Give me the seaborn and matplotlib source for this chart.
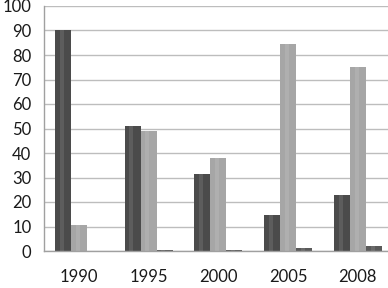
import matplotlib
matplotlib.use("Agg")
import matplotlib.pyplot as plt
import seaborn as sns
import pandas as pd
import numpy as np

years = ["1990", "1995", "2000", "2005", "2008"]
series_a = [90, 51, 31.5, 14.5, 23]
series_b = [10.5, 49, 38, 84.5, 75]
series_c = [0, 0.3, 0.6, 1.2, 2.2]
series_names = ["A", "B", "C"]
colors = ["#4b4b4b", "#a6a6a6", "#5a5a5a"]

rows = []
for name, vals in zip(series_names, [series_a, series_b, series_c]):
    for y, v in zip(years, vals):
        rows.append({"year": y, "series": name, "value": v})
df = pd.DataFrame(rows)

sns.set_style("white")
plt.rcParams["font.family"] = ["Lato", "DejaVu Sans"]

fig = plt.figure(figsize=(3.88, 2.88), dpi=100)
ax = fig.add_axes([44 / 388, 1 - 251 / 288, 350 / 388, 245 / 288])

sns.barplot(data=df, x="year", y="value", hue="series", palette=colors,
            width=0.69, gap=0, saturation=1, edgecolor="none", ax=ax, legend=False)

# light highlight down the middle of each bar to hint at the cylinder look
for bar in ax.patches:
    x, w, h = bar.get_x(), bar.get_width(), bar.get_height()
    if h <= 0:
        continue
    ax.bar(x + w * 0.3, h, width=w * 0.25, align="edge",
           color="white", alpha=0.1, linewidth=0, zorder=bar.get_zorder() + 0.1)

ax.set_ylim(0, 100)
ax.set_xlim(-0.5, 4.52)
ax.set_yticks(range(0, 101, 10))
ax.set_xlabel("")
ax.set_ylabel("")
ax.yaxis.grid(True, color="#bdbdbd", linewidth=1)
ax.set_axisbelow(True)

for s in ["top", "right"]:
    ax.spines[s].set_visible(False)
for s in ["left", "bottom"]:
    ax.spines[s].set_color("#a0a0a0")
    ax.spines[s].set_linewidth(1)

ax.set_xticks(np.arange(-0.5, 4.6, 1), minor=True)
ax.tick_params(axis="x", which="major", length=0, pad=13, labelsize=12, colors="#1a1a1a")
ax.tick_params(axis="x", which="minor", length=5, color="#a0a0a0", direction="out")
ax.tick_params(axis="y", length=5, color="#a0a0a0", pad=4, labelsize=12, colors="#1a1a1a")

fig.savefig("out.png", dpi=100)
